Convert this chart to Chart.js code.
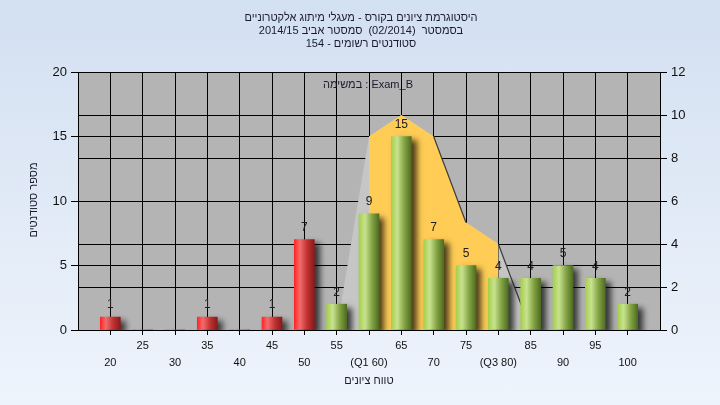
<!DOCTYPE html>
<html>
<head>
<meta charset="utf-8">
<script src="https://cdn.jsdelivr.net/npm/chart.js@4"></script>
<style>
  html, body { margin: 0; padding: 0; }
  body { width: 720px; height: 405px; overflow: hidden; background: linear-gradient(#d3e0f1, #eef4fc); }
</style>
</head>
<body>
<canvas id="gradeChart" width="720" height="405"></canvas>
<script>
const titleLines = [
  "היסטוגרמת ציונים בקורס - מעגלי מיתוג אלקטרוניים",
  "בסמסטר  (02/2014)  סמסטר אביב 2014/15",
  "סטודנטים רשומים - 154"
];
const examLabel = "במשימה : Exam_B";
const xTitle = "טווח ציונים";
const yTitle = "מספר סטודנטים";

const grades = [20, 25, 30, 35, 40, 45, 50, 55, 60, 65, 70, 75, 80, 85, 90, 95, 100];
const tickLabels = ["20", "25", "30", "35", "40", "45", "50", "55", "(Q1 60)", "65", "70", "75", "(Q3 80)", "85", "90", "95", "100"];
const students = [1, 0, 0, 1, 0, 1, 7, 2, 9, 15, 7, 5, 4, 4, 5, 4, 2];
const passGrade = 55;

// Q1..Q3 band (right axis)
const bandX = [60, 65, 70, 75, 80];
const bandY = [9, 10, 9, 5, 4];
// distribution outline behind it (right axis)
const curveX = [55, 60, 65, 70, 75, 80, 85];
const curveY = [0, 9, 10, 9, 5, 4, 0];

const FONT = "'Liberation Sans', 'DejaVu Sans', sans-serif";

function barFill(c) {
  const chart = c.chart;
  if (!chart.chartArea) return '#999';
  const x = chart.scales.x.getPixelForValue(grades[c.dataIndex]);
  const g = chart.ctx.createLinearGradient(x - 10, 0, x + 10, 0);
  if (grades[c.dataIndex] < passGrade) {
    g.addColorStop(0, '#ff2626');
    g.addColorStop(0.28, '#f26c6c');
    g.addColorStop(0.65, '#c03030');
    g.addColorStop(1, '#8a1a1a');
  } else {
    g.addColorStop(0, '#a4d04a');
    g.addColorStop(0.3, '#c8e290');
    g.addColorStop(0.65, '#84a444');
    g.addColorStop(1, '#4e6c22');
  }
  return g;
}

const plotBg = {
  id: 'plotBg',
  beforeDraw(chart) {
    const a = chart.chartArea, ctx = chart.ctx;
    ctx.save();
    ctx.fillStyle = '#b4b4b4';
    ctx.fillRect(a.left, a.top, a.right - a.left, a.bottom - a.top);
    ctx.restore();
  }
};

const barShadow = {
  id: 'barShadow',
  beforeDatasetDraw(chart, args) {
    if (args.meta.type !== 'bar') return;
    const ctx = chart.ctx;
    ctx.save();
    ctx.shadowColor = 'rgba(0,0,0,0.7)';
    ctx.shadowBlur = 6;
    ctx.shadowOffsetX = 5;
    ctx.shadowOffsetY = 4;
  },
  afterDatasetDraw(chart, args) {
    if (args.meta.type !== 'bar') return;
    chart.ctx.restore();
  }
};

const texts = {
  id: 'texts',
  afterDatasetsDraw(chart) {
    const ctx = chart.ctx;
    ctx.save();
    ctx.fillStyle = '#202020';
    ctx.font = '12px ' + FONT;
    ctx.textAlign = 'center';
    ctx.textBaseline = 'middle';
    const meta = chart.getDatasetMeta(2);
    meta.data.forEach((el, i) => {
      if (students[i] > 0) ctx.fillText(String(students[i]), el.x, el.y - 12);
    });
    ctx.restore();
  },
  afterDraw(chart) {
    const ctx = chart.ctx, a = chart.chartArea;
    ctx.save();
    ctx.fillStyle = '#1a1a30';
    ctx.font = '11px ' + FONT;
    ctx.textAlign = 'center';
    ctx.textBaseline = 'middle';
    titleLines.forEach((t, i) => ctx.fillText(t, 361, 18 + i * 13));
    ctx.fillText(examLabel, 368, 85);
    ctx.fillText(xTitle, (a.left + a.right) / 2, 381);
    ctx.translate(34, 200);
    ctx.rotate(-Math.PI / 2);
    ctx.fillText(yTitle, 0, 0);
    ctx.restore();
  }
};

new Chart(document.getElementById('gradeChart'), {
  type: 'bar',
  data: {
    datasets: [
      {
        type: 'line',
        yAxisID: 'y2',
        data: curveX.map((x, i) => ({ x, y: curveY[i] })),
        fill: 'origin',
        backgroundColor: '#c6c6c6',
        borderWidth: 1.2,
        pointRadius: 0,
        tension: 0,
        order: 2,
        segment: {
          borderColor: s => (s.p1.parsed.y < s.p0.parsed.y - 2 ? '#3c3c3c' : 'rgba(0,0,0,0)')
        }
      },
      {
        type: 'line',
        yAxisID: 'y2',
        data: bandX.map((x, i) => ({ x, y: bandY[i] })),
        fill: 'origin',
        backgroundColor: '#ffcc55',
        borderWidth: 0,
        pointRadius: 0,
        tension: 0,
        order: 1
      },
      {
        type: 'bar',
        yAxisID: 'y',
        data: grades.map((x, i) => ({ x, y: students[i] })),
        backgroundColor: barFill,
        borderWidth: 0,
        barThickness: 20,
        order: 0
      }
    ]
  },
  options: {
    responsive: false,
    animation: false,
    events: [],
    devicePixelRatio: 1,
    layout: { padding: { top: 72, left: 0, right: 0, bottom: 0 } },
    plugins: {
      legend: { display: false },
      title: { display: false },
      tooltip: { enabled: false },
      filler: { drawTime: 'beforeDatasetsDraw' }
    },
    scales: {
      x: {
        type: 'linear',
        min: 15,
        max: 105,
        offset: false,
        afterBuildTicks: s => { s.ticks = grades.map(v => ({ value: v })); },
        afterFit: s => { s.height = 75; },
        grid: { color: '#000', lineWidth: 1, tickLength: 5, offset: false },
        border: { color: '#000', width: 1 },
        ticks: {
          autoSkip: false,
          maxRotation: 0,
          padding: 2,
          color: '#111',
          font: { family: FONT, size: 11, lineHeight: 1.55 },
          callback: (v, i) => (i % 2 ? tickLabels[i] : ['', tickLabels[i]])
        }
      },
      y: {
        position: 'left',
        min: 0,
        max: 20,
        afterFit: s => { s.width = 78; },
        grid: { color: '#000', lineWidth: 1, tickLength: 7 },
        border: { color: '#000', width: 1 },
        ticks: { stepSize: 5, padding: 4, color: '#111', font: { family: FONT, size: 13 } }
      },
      y2: {
        position: 'right',
        min: 0,
        max: 12,
        afterFit: s => { s.width = 60; },
        grid: { color: '#000', lineWidth: 1, tickLength: 7 },
        border: { color: '#000', width: 1 },
        ticks: { stepSize: 2, padding: 4, color: '#111', font: { family: FONT, size: 13 } }
      }
    }
  },
  plugins: [plotBg, barShadow, texts]
});
</script>
</body>
</html>
